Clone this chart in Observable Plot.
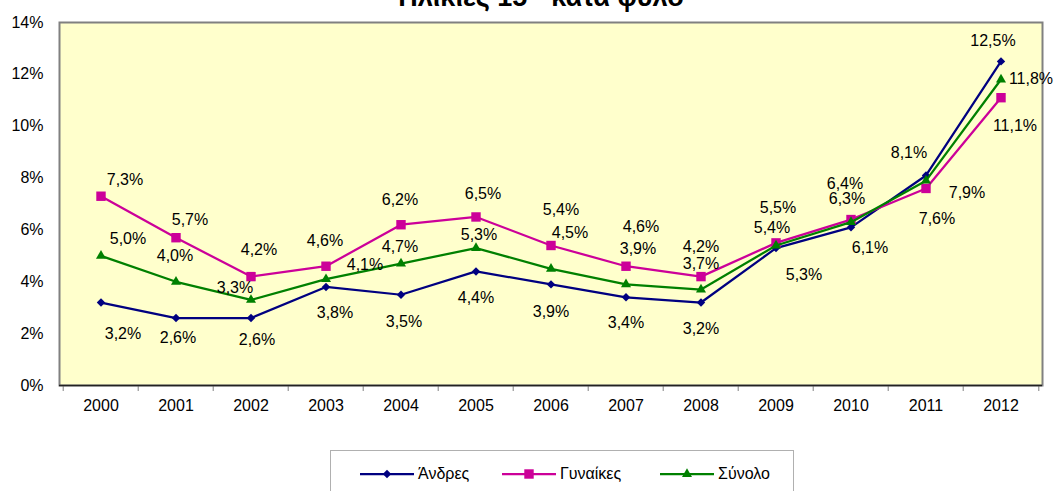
<!DOCTYPE html>
<html>
<head>
<meta charset="utf-8">
<script src="https://cdn.jsdelivr.net/npm/d3@7"></script>
<script src="https://cdn.jsdelivr.net/npm/@observablehq/plot@0.6"></script>
<style>
  body { margin: 0; background: #fff; font-family: "Liberation Sans", Arial, sans-serif; }
  #wrap { position: relative; width: 1059px; height: 491px; overflow: hidden; }
  #title { position: absolute; left: 0; width: 1082px; top: -16px; line-height: 27px; font-size: 27px; font-weight: bold; text-align: center; color: #000; }
  #chart { position: absolute; left: 0; top: 0; }
  #legend { position: absolute; left: 330px; top: 450px; width: 464px; height: 60px; border: 1px solid #b0b0b0; box-sizing: border-box; background: #fff; }
  .item { position: absolute; top: 12px; height: 22px; display: flex; align-items: center; font-size: 16px; color: #000; }
  .item svg { margin-right: 4px; }
</style>
</head>
<body>
<div id="wrap">
  <div id="chart"></div>
  <div id="title">Ηλικίες 15 - κατά φύλο</div>
  <div id="legend"></div>
</div>
<script>
var years = ["2000", "2001", "2002", "2003", "2004", "2005", "2006", "2007", "2008", "2009", "2010", "2011", "2012"]
var men = [3.2, 2.6, 2.6, 3.8, 3.5, 4.4, 3.9, 3.4, 3.2, 5.3, 6.1, 8.1, 12.5]
var women = [7.3, 5.7, 4.2, 4.6, 6.2, 6.5, 5.4, 4.6, 4.2, 5.5, 6.4, 7.6, 11.1]
var total = [5.0, 4.0, 3.3, 4.1, 4.7, 5.3, 4.5, 3.9, 3.7, 5.4, 6.3, 7.9, 11.8]
var seriesNames = ["Άνδρες", "Γυναίκες", "Σύνολο"]
var yTicks = [0, 2, 4, 6, 8, 10, 12, 14]

// label placement (pixel offsets from each point), as Excel put them
var menLabelDx = [22, 2, 6, 9, 3, 0, 0, 0, 0, 28, 19, -17, -8]
var menLabelDy = [31, 20, 22, 26, 27, 26, 27, 26, 26, 27, 21, -23, -21]
var womenLabelDx = [24, 14, 8, -1, -1, 7, 10, 15, 0, 2, -6, 11, 14]
var womenLabelDy = [-16, -18, -27, -25, -25, -23, -36, -39, -30, -35, -36, 30, 28]
var totalLabelDx = [27, -1, -16, 39, -1, 3, 19, 12, 0, -4, -4, 41, 30]
var totalLabelDy = [-17, -26, -12, -14, -17, -13, -36, -36, -26, -18, -23, 12, -1]

var styles = [
    {color: "#000080", symbol: "diamond2", r: 3.8},
    {color: "#CC0099", symbol: "square2", r: 6},
    {color: "#008000", symbol: "triangle2", r: 4.8}
]

var W = 1059, H = 432
var mL = 59, mR = 17, mT = 22, mB = 47
var step = (W - mL - mR) / years.length
var fmt = v => v.toFixed(1).replace(".", ",") + "%"

var values = [men, women, total]
var dxs = [menLabelDx, womenLabelDx, totalLabelDx]
var dys = [menLabelDy, womenLabelDy, totalLabelDy]

var rows = []
values.forEach((vals, s) => {
    vals.forEach((v, i) => {
        rows.push({year: years[i], value: v, series: seriesNames[s], s: s, dx: dxs[s][i], dy: dys[s][i]})
    })
})

let marks = [
    Plot.frame({fill: "#FFFFCC"}),
    Plot.frame({stroke: "#808080", strokeWidth: 2}),
    Plot.axisY({ticks: yTicks, tickFormat: d => d + "%", tickSize: 0, tickPadding: 16, fontSize: 16, fill: "#000"}),
    Plot.axisX({tickSize: 0, tickPadding: 14, fontSize: 16, fill: "#000"}),
    Plot.axisX({tickSize: 6, tickFormat: () => "", stroke: "#808080", dx: -step / 2}),
    Plot.axisX({ticks: [years[years.length - 1]], tickSize: 6, tickFormat: () => "", stroke: "#808080", dx: step / 2}),
    Plot.ruleY([0], {stroke: "#222", strokeWidth: 1.5})
]

styles.forEach((st, s) => {
    let d = rows.filter(r => r.s === s)
    marks.push(Plot.line(d, {x: "year", y: "value", stroke: st.color, strokeWidth: 2.25}))
    marks.push(Plot.dot(d, {x: "year", y: "value", symbol: st.symbol, r: st.r, fill: st.color, stroke: "none"}))
})

rows.forEach(r => {
    marks.push(Plot.text([r], {x: "year", y: "value", text: d => fmt(d.value), dx: r.dx, dy: r.dy,
        fontSize: 16, fill: "#000", lineAnchor: "middle"}))
})

let plot = Plot.plot({
    width: W,
    height: H,
    marginTop: mT,
    marginRight: mR,
    marginBottom: mB,
    marginLeft: mL,
    style: {fontFamily: "Liberation Sans, Arial, sans-serif", background: "transparent"},
    x: {type: "band", domain: years, padding: 0, label: null},
    y: {domain: [0, 14], label: null},
    marks: marks
})
document.getElementById("chart").append(plot)

// legend
let legend = document.getElementById("legend")
let itemLeft = [29, 171, 329]
styles.forEach((st, s) => {
    let item = document.createElement("div")
    item.className = "item"
    item.style.left = itemLeft[s] + "px"
    let sw = d3.create("svg").attr("width", 54).attr("height", 22)
    sw.append("line").attr("x1", 0).attr("x2", 54).attr("y1", 11).attr("y2", 11)
        .attr("stroke", st.color).attr("stroke-width", 2.25)
    let sym = {diamond2: d3.symbolDiamond2, square2: d3.symbolSquare2, triangle2: d3.symbolTriangle2}[st.symbol]
    sw.append("path").attr("transform", "translate(27,11)")
        .attr("d", d3.symbol(sym, Math.PI * st.r * st.r)()).attr("fill", st.color)
    item.append(sw.node())
    let t = document.createElement("span")
    t.textContent = seriesNames[s]
    item.append(t)
    legend.append(item)
})
</script>
</body>
</html>
